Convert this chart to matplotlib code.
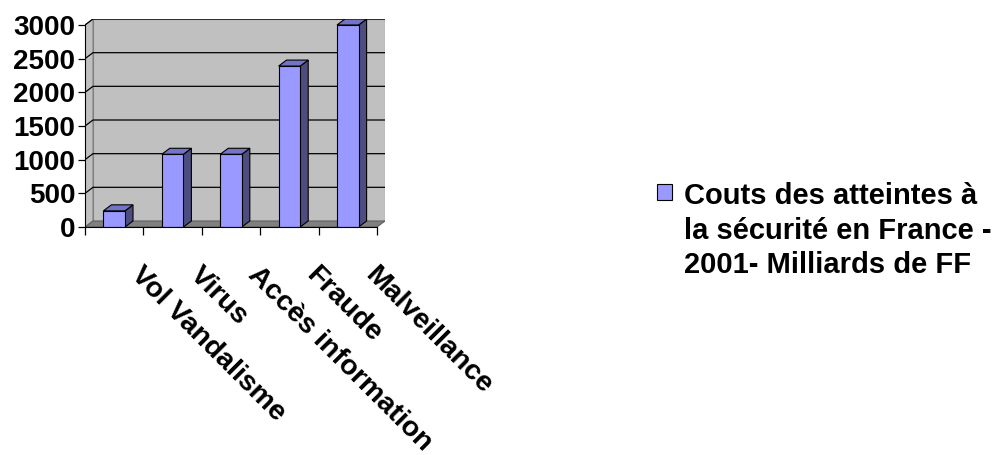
import matplotlib.pyplot as plt
from matplotlib.patches import Polygon, Rectangle
from matplotlib.transforms import ScaledTranslation

categories = ['Vol Vandalisme', 'Virus', 'Accès information', 'Fraude', 'Malveillance']
values = [240, 1080, 1080, 2390, 3000]
yticks = [0, 500, 1000, 1500, 2000, 2500, 3000]
series_label = 'Couts des atteintes à\nla sécurité en France -\n2001- Milliards de FF'

plt.rcParams['font.family'] = ['Liberation Sans', 'DejaVu Sans']
plt.rcParams['font.weight'] = 'bold'

fig = plt.figure(figsize=(10.02, 4.55), dpi=100)
W, H = 1002, 455
# front plane: x 85..377 px, y 227 (0) .. 25 (3000) px from top
ax = fig.add_axes([85 / W, (455 - 227) / H, 300 / W, (227 - 19) / H])

n = len(categories)
ymax = 3000
dx = 8 / 58.4          # depth offset in category units
dy = 6 * ymax / 202    # depth offset in value units
ax.set_xlim(0, n + dx)
ax.set_ylim(0, ymax + dy)

wall = '#C0C0C0'
floor = '#808080'
front_c = '#9999FF'
top_c = '#7373C8'
side_c = '#4D4D80'

# back wall, side wall and floor
ax.add_patch(Polygon([(dx, dy), (n + dx, dy), (n + dx, ymax + dy), (dx, ymax + dy)],
                     closed=True, facecolor=wall, edgecolor='#808080', lw=0.8, zorder=0))
ax.add_patch(Polygon([(0, 0), (dx, dy), (dx, ymax + dy), (0, ymax)],
                     closed=True, facecolor=wall, edgecolor='#808080', lw=0.8, zorder=0))
ax.add_patch(Polygon([(0, 0), (n, 0), (n + dx, dy), (dx, dy)],
                     closed=True, facecolor=floor, edgecolor='#606060', lw=0.8, zorder=1))

for v in yticks[1:]:
    ax.plot([0, dx, n + dx], [v, v + dy, v + dy], color='black', lw=0.9, zorder=1)

# 3D-looking columns
bw = 0.37
for i, v in enumerate(values):
    x0 = i + 0.5 - bw / 2
    ax.add_patch(Polygon([(x0 + bw, 0), (x0 + bw + dx, dy), (x0 + bw + dx, v + dy), (x0 + bw, v)],
                         closed=True, facecolor=side_c, edgecolor='black', lw=0.8, zorder=3))
    ax.add_patch(Polygon([(x0, v), (x0 + bw, v), (x0 + bw + dx, v + dy), (x0 + dx, v + dy)],
                         closed=True, facecolor=top_c, edgecolor='black', lw=0.8, zorder=3))
    ax.add_patch(Rectangle((x0, 0), bw, v, facecolor=front_c, edgecolor='black', lw=0.8, zorder=4))

for s in ['top', 'right']:
    ax.spines[s].set_visible(False)
ax.spines['left'].set_bounds(0, ymax)
ax.spines['bottom'].set_bounds(0, n)
ax.spines['left'].set_zorder(5)
ax.spines['bottom'].set_zorder(5)

ax.set_yticks(yticks)
ax.set_yticklabels([str(t) for t in yticks], fontsize=20, fontweight='bold')
ax.tick_params(axis='y', direction='out', length=5, width=0.9, pad=2)
ax.set_xticks(range(n + 1))
ax.set_xticklabels([])
ax.tick_params(axis='x', direction='out', length=6, width=0.9)

off = ScaledTranslation(30 / 100, -35 / 100, fig.dpi_scale_trans)
for i, c in enumerate(categories):
    ax.text(i + 0.5, 0, c, transform=ax.transData + off, rotation=-45,
            rotation_mode='anchor', ha='left', va='top', fontsize=20.5, fontweight='bold')

# legend drawn by hand so the key sits beside the first line
fig.patches.append(Rectangle((657 / W, 1 - 200 / H), 15 / W, 16 / H, transform=fig.transFigure,
                             facecolor=front_c, edgecolor='black', lw=0.8))
fig.text(684 / W, 1 - 182 / H, series_label, ha='left', va='top', fontsize=21,
         fontweight='bold', linespacing=1.3)

fig.savefig('out.png', dpi=100)
